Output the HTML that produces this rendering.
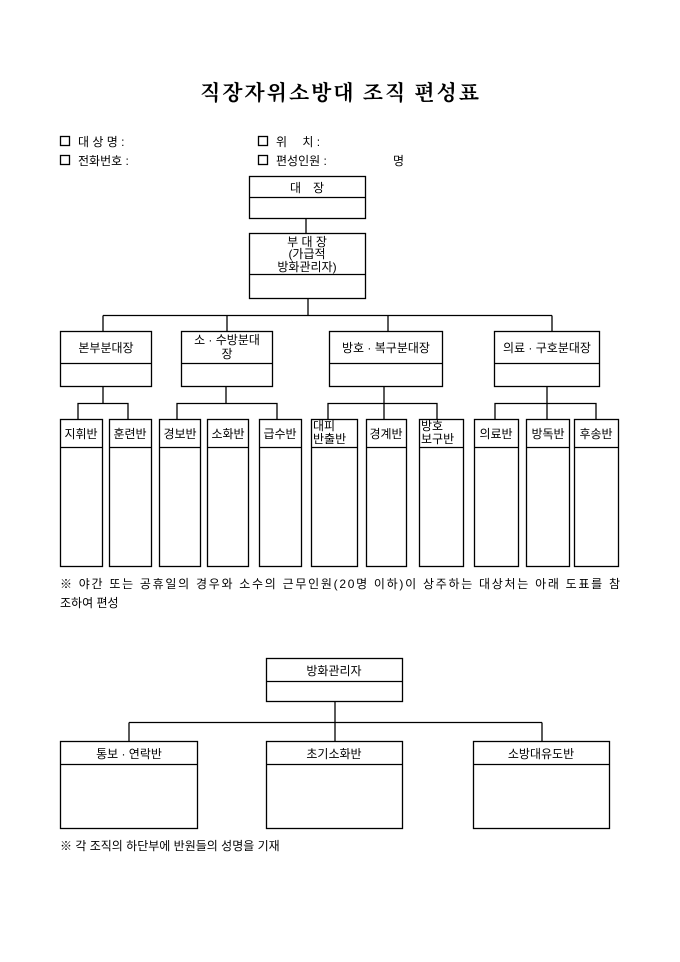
<!DOCTYPE html>
<html><head><meta charset="utf-8"><style>
html,body{margin:0;padding:0;background:#fff;}
svg{display:block;}
text{font-family:"Liberation Sans","Noto Sans CJK KR","NanumGothic",sans-serif;font-size:12px;fill:#000;}
.t{font-family:"Liberation Serif","Noto Serif CJK SC","NanumGothic",serif;font-size:21px;font-weight:bold;letter-spacing:1px;}
</style></head><body>
<svg width="680" height="962" viewBox="0 0 680 962" xmlns="http://www.w3.org/2000/svg">
<g fill="none" stroke="#000" stroke-width="1.3">
<rect x="249.5" y="176.5" width="116" height="42"/><line x1="249.5" y1="197.5" x2="365.5" y2="197.5"/>
<line x1="306" y1="218.5" x2="306" y2="233.5"/>
<rect x="249.5" y="233.5" width="116" height="65"/><line x1="249.5" y1="274.5" x2="365.5" y2="274.5"/>
<line x1="308" y1="298.5" x2="308" y2="315.5"/>
<line x1="103" y1="315.5" x2="552" y2="315.5"/>
<line x1="103" y1="315.5" x2="103" y2="331"/><line x1="227" y1="315.5" x2="227" y2="331"/>
<line x1="388" y1="315.5" x2="388" y2="331"/><line x1="552" y1="315.5" x2="552" y2="331"/>
<rect x="60.5" y="331.5" width="91" height="55"/><line x1="60.5" y1="363.5" x2="151.5" y2="363.5"/>
<rect x="181.5" y="331.5" width="91" height="55"/><line x1="181.5" y1="363.5" x2="272.5" y2="363.5"/>
<rect x="329.5" y="331.5" width="113" height="55"/><line x1="329.5" y1="363.5" x2="442.5" y2="363.5"/>
<rect x="494.5" y="331.5" width="105" height="55"/><line x1="494.5" y1="363.5" x2="599.5" y2="363.5"/>
<line x1="103" y1="386.5" x2="103" y2="403.5"/><line x1="226" y1="386.5" x2="226" y2="403.5"/>
<line x1="384" y1="386.5" x2="384" y2="419"/><line x1="547" y1="386.5" x2="547" y2="419"/>
<polyline points="78,419 78,403.5 128,403.5 128,419"/>
<polyline points="177,419 177,403.5 277,403.5 277,419"/>
<polyline points="328,419 328,403.5 437,403.5 437,419"/>
<polyline points="495,419 495,403.5 596,403.5 596,419"/>
<g>
<rect x="60.5" y="419.5" width="42" height="147"/><line x1="60.5" y1="447.5" x2="102.5" y2="447.5"/>
<rect x="109.5" y="419.5" width="42" height="147"/><line x1="109.5" y1="447.5" x2="151.5" y2="447.5"/>
<rect x="159.5" y="419.5" width="41" height="147"/><line x1="159.5" y1="447.5" x2="200.5" y2="447.5"/>
<rect x="207.5" y="419.5" width="41" height="147"/><line x1="207.5" y1="447.5" x2="248.5" y2="447.5"/>
<rect x="259.5" y="419.5" width="42" height="147"/><line x1="259.5" y1="447.5" x2="301.5" y2="447.5"/>
<rect x="311.5" y="419.5" width="46" height="147"/><line x1="311.5" y1="447.5" x2="357.5" y2="447.5"/>
<rect x="366.5" y="419.5" width="40" height="147"/><line x1="366.5" y1="447.5" x2="406.5" y2="447.5"/>
<rect x="419.5" y="419.5" width="44" height="147"/><line x1="419.5" y1="447.5" x2="463.5" y2="447.5"/>
<rect x="474.5" y="419.5" width="44" height="147"/><line x1="474.5" y1="447.5" x2="518.5" y2="447.5"/>
<rect x="526.5" y="419.5" width="43" height="147"/><line x1="526.5" y1="447.5" x2="569.5" y2="447.5"/>
<rect x="574.5" y="419.5" width="44" height="147"/><line x1="574.5" y1="447.5" x2="618.5" y2="447.5"/>
</g>
<rect x="266.5" y="658.5" width="136" height="43"/><line x1="266.5" y1="681.5" x2="402.5" y2="681.5"/>
<line x1="335" y1="701.5" x2="335" y2="741"/>
<line x1="129" y1="722.5" x2="542" y2="722.5"/>
<line x1="129" y1="722.5" x2="129" y2="741"/><line x1="542" y1="722.5" x2="542" y2="741"/>
<rect x="60.5" y="741.5" width="137" height="87"/><line x1="60.5" y1="764.5" x2="197.5" y2="764.5"/>
<rect x="266.5" y="741.5" width="136" height="87"/><line x1="266.5" y1="764.5" x2="402.5" y2="764.5"/>
<rect x="473.5" y="741.5" width="136" height="87"/><line x1="473.5" y1="764.5" x2="609.5" y2="764.5"/>
<rect x="60.5" y="136.5" width="9" height="9"/><rect x="60.5" y="155.5" width="9" height="9"/>
<rect x="258.5" y="136.5" width="9" height="9"/><rect x="258.5" y="155.5" width="9" height="9"/>
</g>
<text class="t" x="340" y="100" text-anchor="middle" textLength="280" lengthAdjust="spacing">직장자위소방대 조직 편성표</text>
<text x="78" y="146">대 상 명 :</text>
<text x="78" y="165">전화번호 :</text>
<text x="276" y="146">위　  치 :</text>
<text x="276" y="165">편성인원 :</text>
<text x="393" y="165">명</text>
<g text-anchor="middle">
<text x="307" y="192">대　장</text>
<text x="307" y="246">부 대 장</text>
<text x="307" y="258">(가급적</text>
<text x="307" y="271">방화관리자)</text>
<text x="106" y="352">본부분대장</text>
<text x="227" y="344">소 · 수방분대</text>
<text x="227" y="358">장</text>
<text x="386" y="352">방호 · 복구분대장</text>
<text x="547" y="352">의료 · 구호분대장</text>
<text x="81" y="438">지휘반</text>
<text x="130" y="438">훈련반</text>
<text x="180" y="438">경보반</text>
<text x="228" y="438">소화반</text>
<text x="280" y="438">급수반</text>
<text x="386" y="438">경계반</text>
<text x="496" y="438">의료반</text>
<text x="548" y="438">방독반</text>
<text x="596" y="438">후송반</text>
<text x="334" y="675">방화관리자</text>
<text x="129" y="758">통보 · 연락반</text>
<text x="334" y="758">초기소화반</text>
<text x="541" y="758">소방대유도반</text>
</g>
<text x="313" y="430">대피</text>
<text x="313" y="443">반출반</text>
<text x="421" y="430">방호</text>
<text x="421" y="443">보구반</text>
<text x="60" y="588" textLength="560" lengthAdjust="spacing">※ 야간 또는 공휴일의 경우와 소수의 근무인원(20명 이하)이 상주하는 대상처는 아래 도표를 참</text>
<text x="60" y="607">조하여 편성</text>
<text x="60" y="850">※ 각 조직의 하단부에 반원들의 성명을 기재</text>
</svg>
</body></html>
